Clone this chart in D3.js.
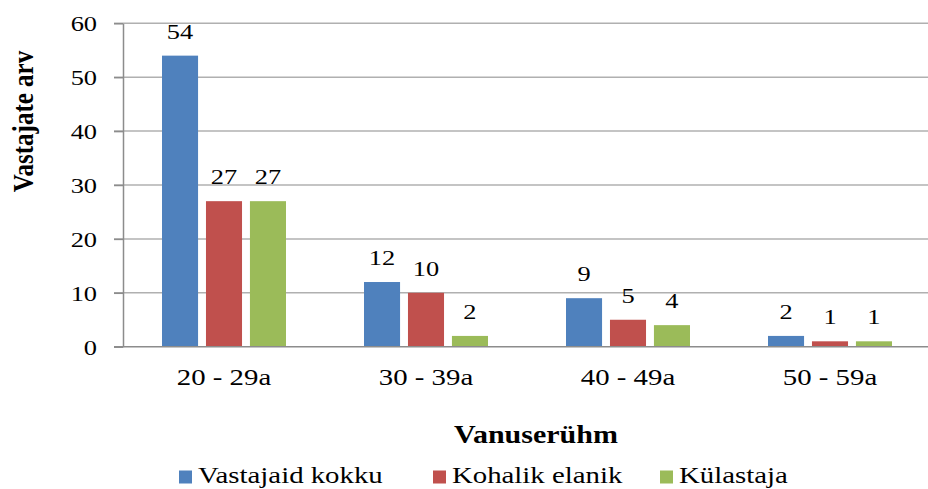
<!DOCTYPE html>
<html>
<head>
	<meta charset="utf-8">
	<title>Vanuserühm</title>
	<script src="https://d3js.org/d3.v7.min.js"></script>
	<style>
		body { margin: 0; background: #fff; }
		.grid line { stroke: #b0b0b0; stroke-width: 1.5px; }
		.axis path, .axis line { stroke: #8c8c8c; stroke-width: 1.5px; }
	</style>
</head>
<body>
<svg id="chart"></svg>
<script>
var categories = ['20 - 29a', '30 - 39a', '40 - 49a', '50 - 59a'];
var seriesNames = ['Vastajaid kokku', 'Kohalik elanik', 'Külastaja'];
var seriesColors = ['#4f81bd', '#c0504d', '#9bbb59'];
var totalValues = [54, 12, 9, 2];
var localValues = [27, 10, 5, 1];
var visitorValues = [27, 2, 4, 1];
var yTicks = [0, 10, 20, 30, 40, 50, 60];

var _series = [totalValues, localValues, visitorValues];
var _data = [];
categories.forEach(function(c, i){
	_series.forEach(function(s, j){
		_data.push({cat: c, key: seriesNames[j], value: s[i], color: seriesColors[j]});
	});
});

var _width = 928, _height = 489,
	_left = 123, _right = 931, _top = 23.3, _bottom = 346.7,
	_font = '"Liberation Serif", Tinos, "Times New Roman", serif',
	_sx = 1.2; // text in the original is widened a bit

// widen text horizontally, keeping its anchor point
function stretch(sel){
	sel.each(function(){
		var t = d3.select(this), x = +t.attr('x') || 0;
		t.attr('x', x / _sx).attr('transform', 'scale(' + _sx + ',1)');
	});
}

var _svg = d3.select('#chart').attr('width', _width).attr('height', _height);

var _x = d3.scaleBand().domain(categories).range([_left, _right]);
var _x1 = d3.scaleBand().domain(seriesNames).range([39, 163]).paddingInner(0.18);
var _y = d3.scaleLinear().domain([0, 60]).range([_bottom, _top]);

// gridlines
_svg.append('g')
	.attr('class', 'grid')
	.selectAll('line')
	.data(yTicks.slice(1))
	.enter().append('line')
		.attr('x1', _left - 9)
		.attr('x2', _width)
		.attr('y1', function(d){ return _y(d); })
		.attr('y2', function(d){ return _y(d); });

// bars
_svg.append('g')
	.selectAll('rect')
	.data(_data)
	.enter().append('rect')
		.attr('x', function(d){ return _x(d.cat) + _x1(d.key); })
		.attr('y', function(d){ return _y(d.value); })
		.attr('width', _x1.bandwidth())
		.attr('height', function(d){ return _bottom - _y(d.value); })
		.attr('fill', function(d){ return d.color; });

// value labels
var _labels = _svg.append('g')
	.selectAll('text')
	.data(_data)
	.enter().append('text')
		.attr('x', function(d){ return _x(d.cat) + _x1(d.key) + _x1.bandwidth() / 2; })
		.attr('y', function(d){ return _y(d.value) - 17; })
		.attr('text-anchor', 'middle')
		.style('font-family', _font)
		.style('font-size', '22px')
		.style('fill', '#000')
		.text(function(d){ return d.value; });
stretch(_labels);

// Y axis
var _yAxis = _svg.append('g')
	.attr('class', 'axis')
	.attr('transform', 'translate(' + _left + ',0)')
	.call(d3.axisLeft(_y).tickValues(yTicks).tickSize(9).tickPadding(17).tickSizeOuter(0));
_yAxis.attr('font-family', null).attr('font-size', null);
_yAxis.selectAll('text').style('font-family', _font).style('font-size', '22px').style('fill', '#000').attr('dy', '0.34em');
stretch(_yAxis.selectAll('text'));

// X axis
var _xAxis = _svg.append('g')
	.attr('class', 'axis')
	.attr('transform', 'translate(0,' + _bottom + ')')
	.call(d3.axisBottom(_x).tickSize(0).tickSizeOuter(0));
_xAxis.attr('font-family', null).attr('font-size', null);
_xAxis.select('.domain').attr('d', 'M' + (_left - 9) + ',0H' + _width);
_xAxis.selectAll('text').style('font-family', _font).style('font-size', '24px').style('fill', '#000')
	.attr('y', 38).attr('dy', 0);
stretch(_xAxis.selectAll('text'));

// axis titles
_svg.append('text')
	.attr('transform', 'translate(33,121.5) rotate(-90) scale(1,' + _sx + ')')
	.attr('text-anchor', 'middle')
	.style('font-family', _font)
	.style('font-size', '25px')
	.style('font-weight', 'bold')
	.text('Vastajate arv');

var _xTitle = _svg.append('text')
	.attr('x', 536)
	.attr('y', 443)
	.attr('text-anchor', 'middle')
	.style('font-family', _font)
	.style('font-size', '25px')
	.style('font-weight', 'bold')
	.text('Vanuserühm');
stretch(_xTitle);

// legend
var _legendX = [179, 433, 660];
var _lg = _svg.append('g')
	.selectAll('g')
	.data(seriesNames)
	.enter().append('g')
		.attr('transform', function(d, i){ return 'translate(' + _legendX[i] + ',0)'; });
_lg.append('rect')
	.attr('x', 0).attr('y', 470.5)
	.attr('width', 13).attr('height', 13)
	.attr('fill', function(d, i){ return seriesColors[i]; });
var _lgText = _lg.append('text')
	.attr('x', 19).attr('y', 483)
	.style('font-family', _font)
	.style('font-size', '24px')
	.text(function(d){ return d; });
stretch(_lgText);
</script>
</body>
</html>
